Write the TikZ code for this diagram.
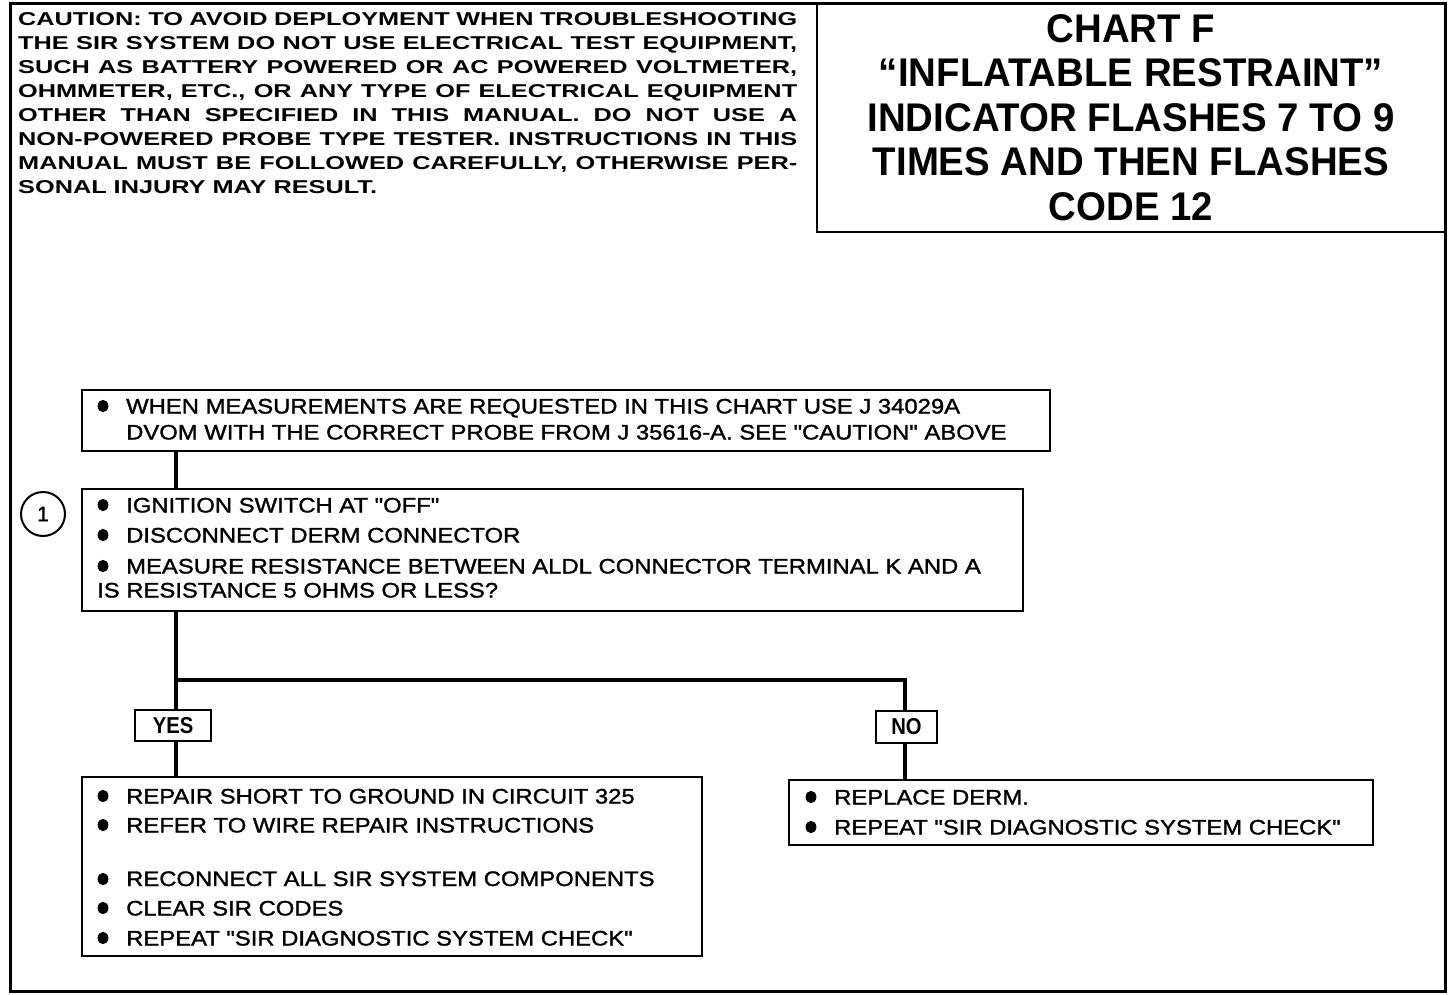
\documentclass[tikz,border=0pt]{standalone}
\usepackage{fontspec}
\usetikzlibrary{shapes.geometric}
\setmainfont{Liberation Sans}
\newfontfamily\cautionf{Liberation Sans Bold}[FakeStretch=1.36]
\newfontfamily\titlef{Liberation Sans Bold}[FakeStretch=0.96]
\newfontfamily\boxf{Liberation Sans}[FakeStretch=1.135,FakeBold=1.4]
\newfontfamily\lblf{Liberation Sans Bold}[FakeStretch=0.88]
\newfontfamily\numf{Liberation Sans}[FakeBold=1.2]
\begin{document}
\begin{tikzpicture}[x=1pt,y=-1pt,
  frame/.style={draw,line width=2.6pt,inner sep=0pt,fill=white},
  conn/.style={line width=3.6pt},
  ctext/.style={anchor=base west,inner sep=0pt,font=\cautionf\fontsize{18.6}{24}\selectfont},
  ttext/.style={anchor=base,inner sep=0pt,font=\titlef\fontsize{40}{44}\selectfont},
  btext/.style={anchor=base west,inner sep=0pt,font=\boxf\fontsize{21}{25}\selectfont},
  lbl/.style={draw,line width=2.4pt,inner sep=0pt,fill=white,font=\lblf\fontsize{23}{24}\selectfont},
  blt/.style={ellipse,fill=black,draw=black,line width=0.8pt,inner sep=0pt,minimum width=10pt,minimum height=11.5pt}]
\useasboundingbox (0,0) rectangle (1456,994);
\fill[white] (0,0) rectangle (1456,994);
% outer frame
\draw[line width=3pt] (10,3) rectangle (1445,991);
% caution text
\node[ctext] (c1) at (18,25) {\makebox[779pt][s]{CAUTION: TO AVOID DEPLOYMENT WHEN TROUBLESHOOTING}};
\node[ctext] (c2) at (18,49) {\makebox[779pt][s]{THE SIR SYSTEM DO NOT USE ELECTRICAL TEST EQUIPMENT,}};
\node[ctext] (c3) at (18,73) {\makebox[779pt][s]{SUCH AS BATTERY POWERED OR AC POWERED VOLTMETER,}};
\node[ctext] (c4) at (18,97) {\makebox[779pt][s]{OHMMETER, ETC., OR ANY TYPE OF ELECTRICAL EQUIPMENT}};
\node[ctext] (c5) at (18,121) {\makebox[779pt][s]{OTHER THAN SPECIFIED IN THIS MANUAL. DO NOT USE A}};
\node[ctext] (c6) at (18,145) {\makebox[779pt][s]{NON-POWERED PROBE TYPE TESTER. INSTRUCTIONS IN THIS}};
\node[ctext] (c7) at (18,169) {\makebox[779pt][s]{MANUAL MUST BE FOLLOWED CAREFULLY, OTHERWISE PER-}};
\node[ctext] (c8) at (18,193) {SONAL INJURY MAY RESULT.};
% title box
\node[frame,minimum width=628pt,minimum height=228pt] (T) at (1131,118) {};
\node[ttext] (t1) at (1131,42) {CHART F};
\node[ttext] (t2) at (1131,86.5) {“INFLATABLE RESTRAINT”};
\node[ttext] (t3) at (1131,131) {INDICATOR FLASHES 7 TO 9};
\node[ttext] (t4) at (1131,175.5) {TIMES AND THEN FLASHES};
\node[ttext] (t5) at (1131,220) {CODE 12};
% boxes
\node[frame,minimum width=968pt,minimum height=61pt] (A) at (566,420.5) {};
\node[frame,minimum width=941pt,minimum height=122pt] (B) at (552.5,550) {};
\node[frame,minimum width=620pt,minimum height=179pt] (C) at (392,866.5) {};
\node[frame,minimum width=584pt,minimum height=65pt] (D) at (1081,812.5) {};
\node[draw,circle,line width=2pt,minimum size=44pt,inner sep=0pt,font=\numf\fontsize{21}{22}\selectfont] (N1) at (43,514) {1};
% connectors
\coordinate (j) at (176,680);
\coordinate (k) at (905,680);
\draw[conn] (A.south -| j) -- (B.north -| j);
\draw[conn] (B.south -| j) -- (j) -- (k) -- (905,712);
\draw[conn] (j) -- (C.north -| j);
\draw[conn] (905,742) -- (D.north -| k);
\node[lbl,minimum width=76pt,minimum height=31pt] (YES) at (173,725.5) {YES};
\node[lbl,minimum width=61pt,minimum height=32pt] (NO) at (906.5,727) {NO};
% box A text
\node[blt] (ba1) at (103,406) {};
\node[btext] (a1) at (126,413.5) {WHEN MEASUREMENTS ARE REQUESTED IN THIS CHART USE J 34029A};
\node[btext] (a2) at (126,439.5) {DVOM WITH THE CORRECT PROBE FROM J 35616-A. SEE "CAUTION" ABOVE};
% box B text
\node[blt] (bb1) at (103,505) {};
\node[blt] (bb2) at (103,535) {};
\node[blt] (bb3) at (103,566) {};
\node[btext] (b1) at (126,512.5) {IGNITION SWITCH AT "OFF"};
\node[btext] (b2) at (126,542.5) {DISCONNECT DERM CONNECTOR};
\node[btext] (b3) at (126,573.5) {MEASURE RESISTANCE BETWEEN ALDL CONNECTOR TERMINAL K AND A};
\node[btext] (b4) at (97,597.5) {IS RESISTANCE 5 OHMS OR LESS?};
% box C text
\node[blt] (bc1) at (103,796) {};
\node[blt] (bc2) at (103,825) {};
\node[blt] (bc3) at (103,879) {};
\node[blt] (bc4) at (103,908) {};
\node[blt] (bc5) at (103,938) {};
\node[btext] (cc1) at (126,803.5) {REPAIR SHORT TO GROUND IN CIRCUIT 325};
\node[btext] (cc2) at (126,832.5) {REFER TO WIRE REPAIR INSTRUCTIONS};
\node[btext] (cc3) at (126,886) {RECONNECT ALL SIR SYSTEM COMPONENTS};
\node[btext] (cc4) at (126,915.5) {CLEAR SIR CODES};
\node[btext] (cc5) at (126,945.5) {REPEAT "SIR DIAGNOSTIC SYSTEM CHECK"};
% box D text
\node[blt] (bd1) at (811,797) {};
\node[blt] (bd2) at (811,827) {};
\node[btext] (d1) at (834,804.5) {REPLACE DERM.};
\node[btext] (d2) at (834,834.5) {REPEAT "SIR DIAGNOSTIC SYSTEM CHECK"};
\end{tikzpicture}
\end{document}
